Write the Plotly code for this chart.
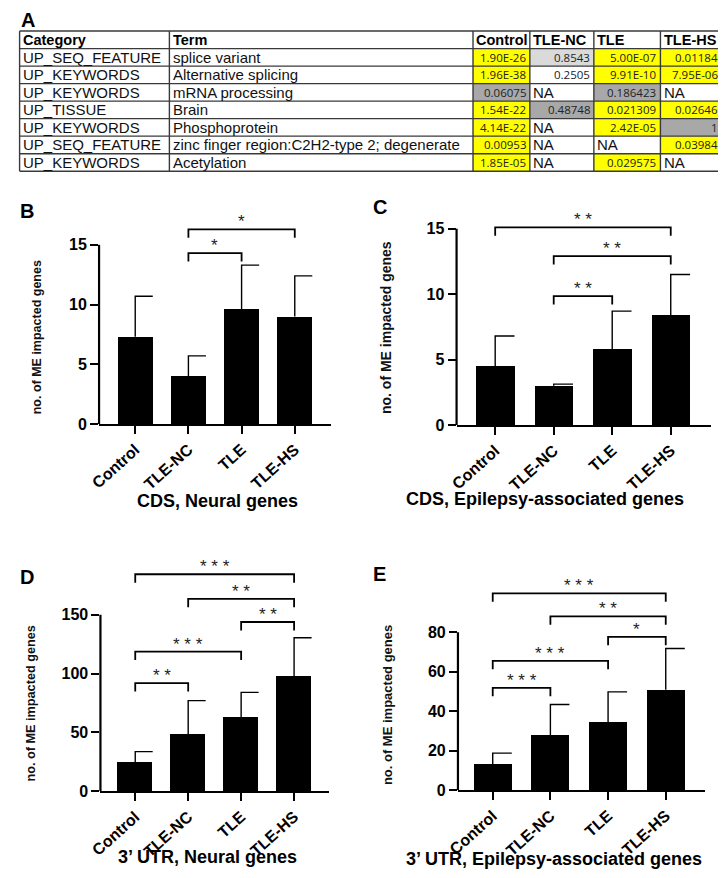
import plotly.graph_objects as go

W, H = 726, 878
OFF = 8  # the page body adds an 8 px margin; positions below are reference pixels

groups = ["Control", "TLE-NC", "TLE", "TLE-HS"]

# panel A: DAVID enrichment table
categories = ["UP_SEQ_FEATURE", "UP_KEYWORDS", "UP_KEYWORDS", "UP_TISSUE",
              "UP_KEYWORDS", "UP_SEQ_FEATURE", "UP_KEYWORDS"]
terms = ["splice variant", "Alternative splicing", "mRNA processing", "Brain",
         "Phosphoprotein", "zinc finger region:C2H2-type 2; degenerate", "Acetylation"]
p_control = ["1.90E-26", "1.96E-38", "0.06075", "1.54E-22", "4.14E-22", "0.00953", "1.85E-05"]
p_tle_nc = ["0.8543", "0.2505", "NA", "0.48748", "NA", "NA", "NA"]
p_tle = ["5.00E-07", "9.91E-10", "0.186423", "0.021309", "2.42E-05", "NA", "0.029575"]
p_tle_hs = ["0.01184", "7.95E-06", "NA", "0.02646", "1", "0.03984", "NA"]

# panels B-E: mean and upper SD of ME impacted genes
cds_neural = [7.3, 4.0, 9.6, 9.0]
cds_neural_sd = [3.4, 1.7, 3.7, 3.4]
cds_epi = [4.5, 3.0, 5.8, 8.4]
cds_epi_sd = [2.3, 0.12, 2.9, 3.1]
utr_neural = [24.6, 48.4, 63.0, 98.0]
utr_neural_sd = [9.0, 28.6, 21.0, 32.4]
utr_epi = [13.3, 27.9, 34.2, 50.9]
utr_epi_sd = [5.5, 15.5, 15.6, 20.9]

# significance brackets (group i, group j, stars)
cds_neural_sig = [(1, 2, "*"), (1, 3, "*")]
cds_epi_sig = [(1, 2, "* *"), (1, 3, "* *"), (0, 3, "* *")]
utr_neural_sig = [(0, 1, "* *"), (0, 2, "* * *"), (2, 3, "* *"), (1, 3, "* *"), (0, 3, "* * *")]
utr_epi_sig = [(0, 1, "* * *"), (0, 2, "* * *"), (2, 3, "*"), (1, 3, "* *"), (0, 3, "* * *")]

# bracket heights in data units, in the same order as above
cds_neural_bh = [14.3, 16.3]
cds_epi_bh = [9.85, 12.9, 15.1]
utr_neural_bh = [91.9, 118.6, 143.8, 163.4, 184.4]
utr_epi_bh = [51.8, 65.5, 77.7, 88.0, 99.7]

FONT = "Liberation Sans"
NUMFONT = "Open Sans"
YELLOW = "#ffff00"
LIGHT = "#dadada"
GREY = "#a8a8a8"


def px_x(v):
    return (v - OFF) / W


def px_y(v):
    return 1 - (v - OFF) / H


fig = go.Figure()
shapes, annotations = [], []

# ---- table A (drawn with shapes + text) ----
col_edges = [8.6, 160.7, 469, 526.7, 591.7, 659.3, 721.7]
row_top, row_h = 31.3, 17.7
header = ["Category", "Term"] + groups
cols = [categories, terms, p_control, p_tle_nc, p_tle, p_tle_hs]
overrides = {(3, 0): LIGHT, (3, 1): "white"}
nrows = len(categories) + 1

for c, col in enumerate(cols):
    x0, x1 = col_edges[c], col_edges[c + 1]
    tx0 = max(x0, 4.5) + 1.5
    annotations.append(dict(text="<b>%s</b>" % header[c], x=px_x(tx0),
                            y=px_y(row_top + row_h / 2), xanchor="left", yanchor="middle",
                            xref="paper", yref="paper", showarrow=False,
                            font=dict(family=FONT, size=14.5, color="black")))
    for r, v in enumerate(col):
        yc = row_top + row_h * (r + 1.5)
        numeric = c >= 2 and v != "NA"
        if numeric:
            if (c, r) in overrides:
                fill = overrides[(c, r)]
            elif float(v) < 0.05:
                fill = YELLOW
            else:
                fill = GREY
            if fill != "white":
                shapes.append(dict(type="rect", xref="paper", yref="paper", layer="below",
                                   x0=px_x(x0), x1=px_x(x1),
                                   y0=px_y(row_top + row_h * (r + 1)),
                                   y1=px_y(row_top + row_h * (r + 2)),
                                   fillcolor=fill, line_width=0))
            annotations.append(dict(text=v, x=px_x(x1 - 2), y=px_y(yc), xanchor="right",
                                    yanchor="middle", xref="paper", yref="paper",
                                    showarrow=False,
                                    font=dict(family=NUMFONT, size=11.5, color="#222")))
        else:
            annotations.append(dict(text=v, x=px_x(tx0), y=px_y(yc), xanchor="left",
                                    yanchor="middle", xref="paper", yref="paper",
                                    showarrow=False,
                                    font=dict(family=FONT, size=15, color="#111")))

grid = dict(color="#3a3a3a", width=1.4)
for r in range(nrows + 1):
    yy = px_y(row_top + row_h * r)
    shapes.append(dict(type="line", xref="paper", yref="paper", x0=px_x(col_edges[0]),
                       x1=px_x(col_edges[-1]), y0=yy, y1=yy, line=grid))
for xe in col_edges:
    shapes.append(dict(type="line", xref="paper", yref="paper", x0=px_x(xe), x1=px_x(xe),
                       y0=px_y(row_top), y1=px_y(row_top + row_h * nrows), line=grid))

annotations.append(dict(text="A", x=px_x(17), y=px_y(OFF), xanchor="center", yanchor="top",
                        borderpad=0, xref="paper", yref="paper", showarrow=False,
                        font=dict(family=FONT, size=20, color="black", weight="bold")))

# ---- bar panels ----
panels = [
    dict(mean=cds_neural, sd=cds_neural_sd, sig=cds_neural_sig, bh=cds_neural_bh,
         ymax=15, dtick=5, xpx=(89.3, 325), ypx=(428.3, 212), ymaxpx=247.3,
         xr=(-0.68, 3.685), title="CDS, Neural genes", tpos=(210, 506),
         ytitle=(26, 341, 12.5), letter="B", lpos=(16, 213)),
    dict(mean=cds_epi, sd=cds_epi_sd, sig=cds_epi_sig, bh=cds_epi_bh,
         ymax=15, dtick=5, xpx=(452.3, 711), ypx=(429.3, 205), ymaxpx=231,
         xr=(-0.66, 3.694), title="CDS, Epilepsy-associated genes", tpos=(542, 504),
         ytitle=(380, 331, 14), letter="C", lpos=(375, 209)),
    dict(mean=utr_neural, sd=utr_neural_sd, sig=utr_neural_sig, bh=utr_neural_bh,
         ymax=150, dtick=50, xpx=(90.7, 322.7), ypx=(799.3, 560), ymaxpx=621,
         xr=(-0.657, 3.658), title="3\u2019 UTR, Neural genes", tpos=(199, 866),
         ytitle=(20, 710, 12.7), letter="D", lpos=(16, 583)),
    dict(mean=utr_epi, sd=utr_epi_sd, sig=utr_epi_sig, bh=utr_epi_bh,
         ymax=80, dtick=20, xpx=(453.7, 704.7), ypx=(798.3, 575), ymaxpx=638.7,
         xr=(-0.603, 3.683), title="3\u2019 UTR, Epilepsy-associated genes", tpos=(551, 868),
         ytitle=(382, 712, 13), letter="E", lpos=(374, 580)),
]

BARW = 0.66

for k, p in enumerate(panels, start=1):
    sx = "" if k == 1 else str(k)
    xa, ya = "x" + sx, "y" + sx
    bottom, top = p["ypx"]
    ytop = p["ymax"] * (bottom - top) / (bottom - p["ymaxpx"])
    unit_px = (bottom - top) / ytop
    xs = list(range(len(groups)))

    fig.add_trace(go.Bar(x=xs, y=p["mean"], width=BARW, marker=dict(color="black", line_width=0),
                         xaxis=xa, yaxis=ya, showlegend=False))

    ex, ey = [], []
    for i, (m, s) in enumerate(zip(p["mean"], p["sd"])):
        ex += [i, i, i + BARW / 2, None]
        ey += [m, m + s, m + s, None]
    fig.add_trace(go.Scatter(x=ex, y=ey, mode="lines", line=dict(color="black", width=1.4),
                             xaxis=xa, yaxis=ya, showlegend=False, hoverinfo="skip"))

    leg = 8.5 / unit_px
    bx, by = [], []
    for (i, j, lab), h in zip(p["sig"], p["bh"]):
        bx += [i, i, j, j, None]
        by += [h - leg, h, h, h - leg, None]
        annotations.append(dict(text=lab, x=(i + j) / 2, y=h, xref=xa, yref=ya,
                                xanchor="center", yanchor="bottom", showarrow=False, yshift=-4,
                                font=dict(family=FONT, size=17, color="#222")))
    fig.add_trace(go.Scatter(x=bx, y=by, mode="lines", line=dict(color="black", width=1.8),
                             xaxis=xa, yaxis=ya, showlegend=False, hoverinfo="skip"))

    fig.update_layout({
        "xaxis" + sx: dict(domain=[px_x(p["xpx"][0]), px_x(p["xpx"][1])], anchor=ya,
                           range=list(p["xr"]), tickvals=xs, ticktext=groups, tickangle=-42,
                           ticks="outside", ticklen=8, tickwidth=2.2, tickcolor="black",
                           showline=True, linewidth=2.2, linecolor="black",
                           showgrid=False, zeroline=False,
                           tickfont=dict(family=FONT, size=16, color="black", weight="bold")),
        "yaxis" + sx: dict(domain=[px_y(bottom), px_y(top)], anchor=xa,
                           range=[0, ytop], tickvals=list(range(0, p["ymax"] + 1, p["dtick"])),
                           ticks="outside", ticklen=8, tickwidth=2.2, tickcolor="black",
                           showline=False, showgrid=False, zeroline=False,
                           tickfont=dict(family=FONT, size=16, color="black", weight="bold")),
    })
    shapes.append(dict(type="line", xref=xa + " domain", yref=ya, x0=0, x1=0,
                       y0=0, y1=p["ymax"], line=dict(color="black", width=2.2)))

    tx, ty, ts = p["ytitle"]
    annotations.append(dict(text="no. of ME impacted genes", textangle=-90,
                            x=px_x(tx), y=px_y(ty), xanchor="center", yanchor="middle",
                            xref="paper", yref="paper", showarrow=False,
                            font=dict(family=FONT, size=ts, color="#111", weight="bold")))
    annotations.append(dict(text=p["title"], x=px_x(p["tpos"][0]), y=px_y(p["tpos"][1]),
                            xanchor="center", yanchor="middle",
                            xref="paper", yref="paper", showarrow=False,
                            font=dict(family=FONT, size=18, color="black", weight="bold")))
    annotations.append(dict(text=p["letter"], x=px_x(p["lpos"][0]), y=px_y(p["lpos"][1]),
                            xanchor="center", yanchor="middle",
                            xref="paper", yref="paper", showarrow=False,
                            font=dict(family=FONT, size=20, color="black", weight="bold")))

fig.update_layout(width=W, height=H, margin=dict(l=0, r=0, t=0, b=0),
                  paper_bgcolor="white", plot_bgcolor="white",
                  shapes=shapes, annotations=annotations, bargap=0)

fig.write_html("out.html")
